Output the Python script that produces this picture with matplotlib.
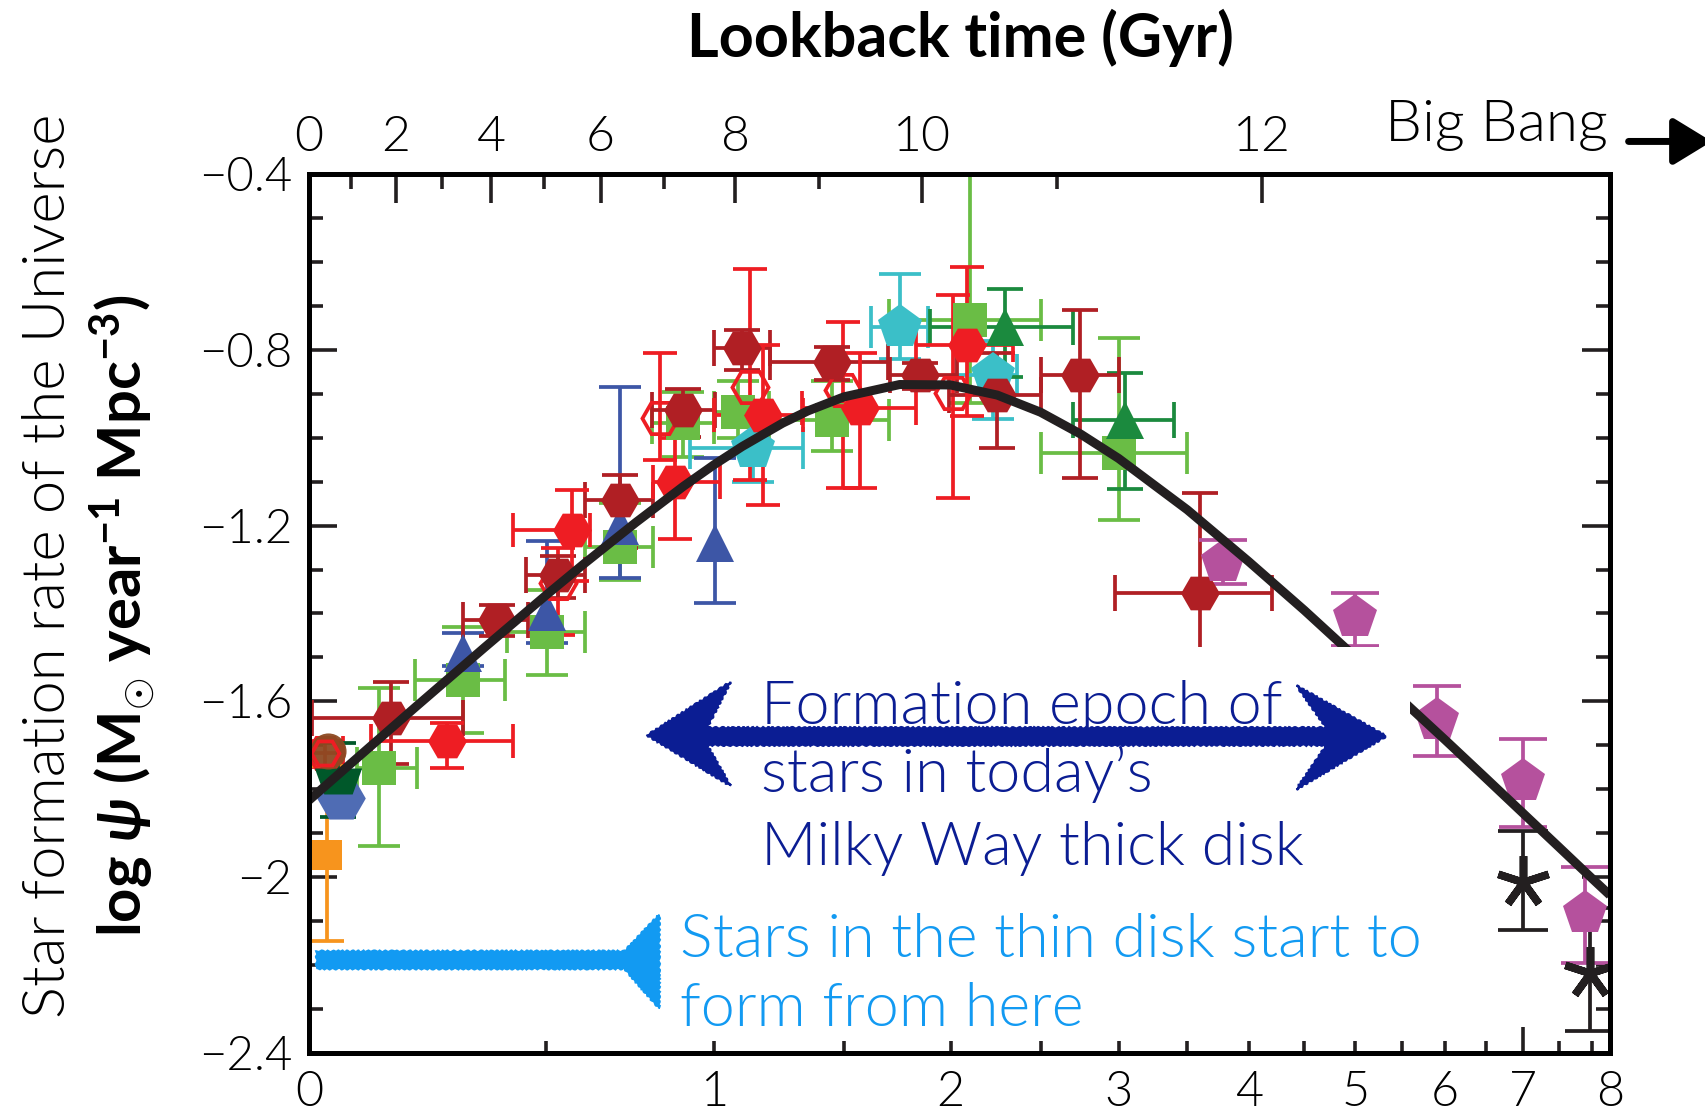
import numpy as np
import matplotlib
matplotlib.use('Agg')
import matplotlib.pyplot as plt
from matplotlib.patches import Polygon, Rectangle, FancyArrowPatch
from matplotlib.ticker import FixedLocator, FixedFormatter, NullFormatter

plt.rcParams['font.family'] = ['Lato', 'DejaVu Sans']
plt.rcParams['font.weight'] = 300
plt.rcParams['mathtext.fontset'] = 'custom'
plt.rcParams['mathtext.rm'] = 'Lato:bold'
plt.rcParams['mathtext.it'] = 'Lato:bold:italic'
plt.rcParams['mathtext.bf'] = 'Lato:bold'

nan = np.nan

# ---- fitted cosmic SFR density, log psi vs redshift ----
curve_z = [0, 0.05, 0.1, 0.2, 0.35, 0.5, 0.6, 0.75, 0.9, 1.0, 1.1, 1.25, 1.35, 1.5, 1.75,
           2.0, 2.25, 2.5, 2.75, 3.0, 3.5, 4.0, 4.5, 5.0, 5.5, 6.0, 6.5, 7.0, 7.5, 8.0, 8.28]
curve_y = [-1.825, -1.768, -1.714, -1.613, -1.478, -1.359, -1.288, -1.193, -1.110, -1.062,
           -1.020, -0.967, -0.939, -0.907, -0.879, -0.880, -0.903, -0.942, -0.992, -1.047,
           -1.164, -1.282, -1.393, -1.499, -1.597, -1.688, -1.774, -1.855, -1.931, -2.003, -2.041]

# ---- measurements: redshift (with bin edges) and log psi (with error range) ----
darkred_z = [0.150, 0.379, 0.532, 0.703, 0.898, 1.098, 1.448, 1.848, 2.246, 2.744, 3.598]
darkred_zlo = [0.005, 0.302, 0.451, 0.605, 0.800, 1.000, 1.202, 1.704, 1.990, 2.500, 2.977]
darkred_zhi = [0.302, 0.456, 0.604, 0.803, 1.004, 1.202, 1.697, 2.031, 2.500, 3.000, 4.200]
darkred_y = [-1.638, -1.415, -1.312, -1.142, -0.937, -0.797, -0.827, -0.857, -0.902, -0.857, -1.354]
darkred_ylo = [-1.742, -1.451, -1.365, -1.251, -0.998, -0.846, -0.869, -0.890, -1.024, -1.092, -1.600]
darkred_yhi = [-1.555, -1.380, -1.269, -1.085, -0.890, -0.756, -0.793, -0.830, -0.808, -0.709, -1.126]

red_z = [0.266, 0.568, 0.872, 1.177, 1.569, 2.084]
red_zlo = [0.113, 0.419, 0.803, 1.000, 1.325, 1.830]
red_zhi = [0.419, 0.618, 1.022, 1.330, 1.830, 2.341]
red_y = [-1.691, -1.210, -1.100, -0.948, -0.933, -0.789]
red_ylo = [-1.752, -1.327, -1.231, -1.153, -1.115, -0.950]
red_yhi = [-1.649, -1.119, -1.000, -0.790, -0.808, -0.611]

redopen_z = [0.028, 0.532, 0.824, 1.128, 1.497, 2.013]
redopen_zlo = [0.000, nan, nan, nan, nan, nan]
redopen_zhi = [0.060, nan, nan, nan, nan, nan]
redopen_y = [-1.718, -1.331, -0.956, -0.884, -0.891, -0.899]
redopen_ylo = [-1.750, -1.449, -1.050, -1.096, -1.115, -1.138]
redopen_yhi = [-1.690, -1.250, -0.808, -0.617, -0.736, -0.675]

green_z = [0.127, 0.302, 0.502, 0.703, 0.898, 1.086, 1.448, 2.101, 3.000, 3.990]
green_zlo = [0.085, 0.200, 0.403, 0.605, 0.800, 1.000, 1.200, 1.700, 2.500, nan]
green_zhi = [0.203, 0.400, 0.604, 0.803, 1.000, 1.200, 1.700, 2.500, 3.500, nan]
green_y = [-1.752, -1.551, -1.441, -1.248, -0.967, -0.941, -0.959, -0.732, -1.035, -1.600]
green_ylo = [-1.930, -1.671, -1.540, -1.323, -1.043, -1.000, -1.031, -0.920, -1.187, -1.720]
green_yhi = [-1.570, -1.430, -1.346, -1.149, -0.895, -0.870, -0.870, -0.300, -0.774, -1.480]

dkgreen_z = [2.292, 3.045]
dkgreen_zlo = [1.896, 2.700]
dkgreen_zhi = [2.700, 3.400]
dkgreen_y = [-0.747, -0.959]
dkgreen_ylo = [-0.861, -1.117]
dkgreen_yhi = [-0.662, -0.853]

cyan_z = [1.140, 1.752, 2.228]
cyan_zlo = [0.920, 1.620, 2.020]
cyan_zhi = [1.329, 1.887, 2.360]
cyan_y = [-1.024, -0.747, -0.857]
cyan_ylo = [-1.100, -0.820, -0.958]
cyan_yhi = [-0.950, -0.627, -0.780]

blue_z = [0.302, 0.502, 0.703, 1.004]
blue_y = [-1.490, -1.396, -1.202, -1.240]
blue_ylo = [-1.520, -1.468, -1.320, -1.376]
blue_yhi = [-1.445, -1.234, -0.884, -1.047]

magenta_z = [3.786, 4.996, 5.896, 6.990, 7.890]
magenta_y = [-1.282, -1.407, -1.642, -1.782, -2.082]
magenta_ylo = [-1.333, -1.475, -1.725, -1.886, -2.195]
magenta_yhi = [-1.232, -1.354, -1.566, -1.685, -1.976]

star_z = [6.990, 7.970]
star_y = [-2.010, -2.218]
star_ylo = [-2.120, -2.351]
star_yhi = [-1.896, -2.071]

# local-universe points
orange_z, orange_y, orange_ylo, orange_yhi = [0.032], [-1.949], [-2.146], [-1.748]
brown_z, brown_y = [0.034], [-1.714]
trap_z, trap_y, trap_ylo, trap_yhi = [0.051], [-1.782], [-1.862], [-1.695]
bluehex_z, bluehex_y = [0.057], [-1.820]

# ---- axis labels ----
bottom_labels = ['0', '1', '2', '3', '4', '5', '6', '7', '8']
top_major_t = [0, 2, 4, 6, 8, 10, 12]
top_minor_t = [1, 3, 5, 7, 9, 11]
y_major = [-2.4, -2.0, -1.6, -1.2, -0.8, -0.4]
y_labels = ['\u22122.4', '\u22122', '\u22121.6', '\u22121.2', '\u22120.8', '\u22120.4']

Z_MAX = 8.28


def fwd(z):
    return np.log10(np.maximum(1 + np.asarray(z, dtype=float), 1e-9))


def inv(u):
    return 10 ** np.asarray(u, dtype=float) - 1


# lookback time in flat LCDM (H0=70, Om=0.3) to place the top ticks
zg = np.linspace(0, 40, 40001)
integ = 1.0 / ((1 + zg) * np.sqrt(0.3 * (1 + zg) ** 3 + 0.7))
tl = 977.8 / 70.0 * np.concatenate([[0], np.cumsum(0.5 * (integ[1:] + integ[:-1]) * np.diff(zg))])


def z_of_t(t):
    return np.interp(t, tl, zg)


fig = plt.figure(figsize=(17.06, 11.19), dpi=100)
ax = fig.add_axes([0.1811, 0.0590, 0.7626, 0.7855])
ax.set_xscale('function', functions=(fwd, inv))
ax.set_xlim(0, Z_MAX)
ax.set_ylim(-2.4, -0.4)


def draw_points(z, y, ylo, yhi, color, marker, ms, cap, zlo=None, zhi=None,
                mfc=None, mew=0.0, zo=3, alpha=1.0):
    for i in range(len(z)):
        xerr = None
        if zlo is not None and not np.isnan(zlo[i]):
            xerr = [[z[i] - zlo[i]], [zhi[i] - z[i]]]
        yerr = None
        if ylo is not None:
            yerr = [[y[i] - ylo[i]], [yhi[i] - y[i]]]
        ax.errorbar(z[i], y[i], xerr=xerr, yerr=yerr, fmt='none', ecolor=color,
                    elinewidth=2.7, capsize=cap, capthick=2.7, zorder=zo)
        ax.plot(z[i], y[i], linestyle='none', marker=marker, ms=ms,
                mfc=color if mfc is None else mfc, mec=color, mew=mew,
                alpha=alpha, zorder=zo + 0.1)


c_darkred = '#B01F24'
c_red = '#EE1D23'
c_green = '#6ABD45'
c_dkgreen = '#1B8A3E'
c_cyan = '#3BBFC8'
c_blue = '#3D56A6'
c_magenta = '#B5519D'
c_black = '#231F20'

draw_points(green_z, green_y, green_ylo, green_yhi, c_green, 's', 24, 15,
            zlo=green_zlo, zhi=green_zhi)
draw_points(blue_z, blue_y, blue_ylo, blue_yhi, c_blue, '^', 28, 15)
draw_points(cyan_z, cyan_y, cyan_ylo, cyan_yhi, c_cyan, 'p', 33, 15,
            zlo=cyan_zlo, zhi=cyan_zhi)
draw_points(dkgreen_z, dkgreen_y, dkgreen_ylo, dkgreen_yhi, c_dkgreen, '^', 28, 13,
            zlo=dkgreen_zlo, zhi=dkgreen_zhi)
draw_points(redopen_z, redopen_y, redopen_ylo, redopen_yhi, c_red, 'H', 26, 12,
            zlo=redopen_zlo, zhi=redopen_zhi, mfc='none', mew=2.7)
draw_points(darkred_z, darkred_y, darkred_ylo, darkred_yhi, c_darkred, 'H', 28, 13,
            zlo=darkred_zlo, zhi=darkred_zhi)
draw_points(red_z, red_y, red_ylo, red_yhi, c_red, 'H', 28, 12,
            zlo=red_zlo, zhi=red_zhi)
draw_points(magenta_z, magenta_y, magenta_ylo, magenta_yhi, c_magenta, 'p', 33, 17)
draw_points(star_z, star_y, star_ylo, star_yhi, c_black, (5, 2, 0), 38, 18, mew=5.5)

# z ~ 0 points
draw_points(orange_z, orange_y, orange_ylo, orange_yhi, '#F7941D', 's', 21, 12)
draw_points(bluehex_z, bluehex_y, None, None, '#4F6CB4', 'H', 35, 0)
trap = [(-1, 0.55), (1, 0.55), (0.6, -0.55), (-0.6, -0.55), (-1, 0.55)]
draw_points(trap_z, trap_y, trap_ylo, trap_yhi, '#00582A', trap, 34, 13)
draw_points(brown_z, brown_y, None, None, '#8C4A22', 'o', 26, 0, alpha=0.95)
draw_points(redopen_z[:1], redopen_y[:1], None, None, c_red, 'H', 20, 0,
            mfc='none', mew=2.7, zo=4)

ax.plot(curve_z, curve_y, color=c_black, lw=6.5, zorder=5, solid_capstyle='butt')

# white panel behind the thick-disk note
ax.add_patch(Rectangle((0.256, 0.195), 0.590, 0.2666, transform=ax.transAxes,
                       fc='white', ec='none', zorder=6))

# double arrow (thick disk epoch)
navy = '#0B1D93'
dbl = [(0.2600, 0.3614), (0.3240, 0.4220), (0.3060, 0.3700), (0.7820, 0.3700),
       (0.7590, 0.4180), (0.8280, 0.3604), (0.7590, 0.3000), (0.7820, 0.3502),
       (0.3060, 0.3502), (0.3240, 0.3040)]
p = Polygon(dbl, closed=True, transform=ax.transAxes, fc=navy, ec=navy, lw=1.5, zorder=7)
p.set_sketch_params(0.8, 6, 2)
ax.add_patch(p)

# thin-disk arrow
sky = '#129AF2'
thin = [(0.00585, 0.1157), (0.2425, 0.1157), (0.2692, 0.1572), (0.2692, 0.0507),
        (0.2425, 0.0959), (0.00585, 0.0959)]
p2 = Polygon(thin, closed=True, transform=ax.transAxes, fc=sky, ec=sky, lw=1.5, zorder=7)
p2.set_sketch_params(0.8, 6, 2)
ax.add_patch(p2)

note_kw = dict(transform=ax.transAxes, ha='left', va='baseline', fontsize=44, zorder=8)
ax.text(0.3478, 0.3738, 'Formation epoch of', color=navy, **note_kw)
ax.text(0.3478, 0.2970, 'stars in today\u2019s', color=navy, **note_kw)
ax.text(0.3478, 0.2141, 'Milky Way thick disk', color=navy, **note_kw)
ax.text(0.2851, 0.1089, 'Stars in the thin disk start to', color=sky, **note_kw)
ax.text(0.2851, 0.0309, 'form from here', color=sky, **note_kw)

# bottom axis: redshift
ax.xaxis.set_major_locator(FixedLocator([0, 1, 2, 3, 4, 5, 6, 7, Z_MAX]))
ax.xaxis.set_major_formatter(FixedFormatter(bottom_labels))
ax.xaxis.set_minor_locator(FixedLocator([0.5, 1.5, 2.5, 3.5, 4.5, 5.5, 6.5, 7.5, 8.0]))
ax.xaxis.set_minor_formatter(NullFormatter())

ax.yaxis.set_major_locator(FixedLocator(y_major))
ax.yaxis.set_major_formatter(FixedFormatter(y_labels))
ax.yaxis.set_minor_locator(FixedLocator(np.round(np.arange(-2.4, -0.35, 0.1), 2)))

ax.tick_params(axis='both', which='both', direction='in', width=2.6, colors=c_black,
               labelcolor='black', labelsize=34)
ax.tick_params(axis='y', which='both', left=True, right=True, pad=12)
ax.tick_params(axis='y', which='major', length=20)
ax.tick_params(axis='y', which='minor', length=10)
ax.tick_params(axis='x', which='both', top=False, bottom=True, length=9, pad=12,
               labelsize=35)
for s in ax.spines.values():
    s.set_linewidth(3.6)
    s.set_color(c_black)

# top axis: lookback time
top = ax.twiny()
top.set_xscale('function', functions=(fwd, inv))
top.set_xlim(0, Z_MAX)
top.xaxis.set_major_locator(FixedLocator(z_of_t(top_major_t)))
top.xaxis.set_major_formatter(FixedFormatter([str(t) for t in top_major_t]))
top.xaxis.set_minor_locator(FixedLocator(z_of_t(top_minor_t)))
top.xaxis.set_minor_formatter(NullFormatter())
top.tick_params(axis='x', which='both', direction='in', width=2.6, colors=c_black,
                labelcolor='black', labelsize=36, pad=10)
top.tick_params(axis='x', which='major', length=21)
top.tick_params(axis='x', which='minor', length=11)
for s in top.spines.values():
    s.set_linewidth(3.6)

# longer tick at z = 7, none under the shifted "8"
xt = ax.xaxis.get_major_ticks()
xt[7].tick1line.set_markersize(19)
xt[8].tick1line.set_markersize(0)

fig.text(0.5627, 0.966, 'Lookback time (Gyr)', ha='center', va='center',
         fontsize=44, fontweight='bold')
fig.text(0.0287, 0.494, 'Star formation rate of the Universe', rotation=90,
         ha='center', va='center', fontsize=43)
fig.text(0.0715, 0.450, r'log $\psi$ (M$_{\odot}$ year$^{-1}$ Mpc$^{-3}$)', rotation=90,
         ha='center', va='center', fontsize=43, fontweight='bold')
fig.text(0.877, 0.888, 'Big Bang', ha='center', va='center', fontsize=42)
fig.patches.append(FancyArrowPatch(
    (0.953, 0.8736), (1.005, 0.8736), transform=fig.transFigure,
    arrowstyle='-|>,head_length=0.9,head_width=0.55', mutation_scale=26,
    lw=5, color='black'))

fig.savefig('out.png', dpi=100)
